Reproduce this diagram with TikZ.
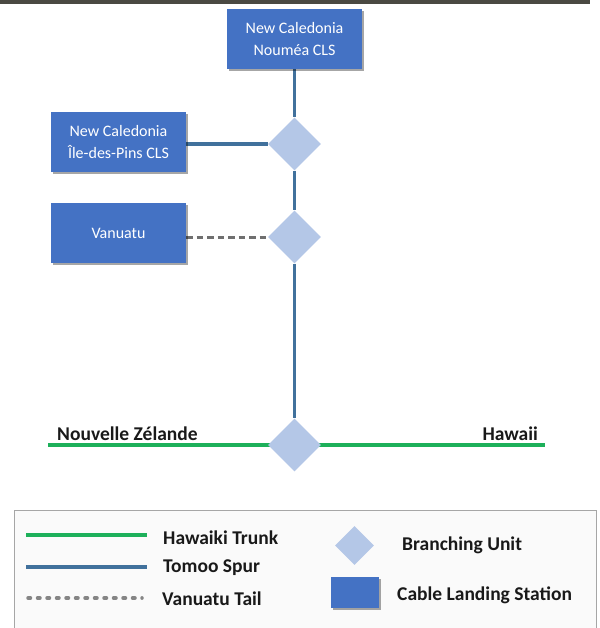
\documentclass[tikz,border=0pt]{standalone}
\usepackage{fontspec}
\setmainfont{Carlito}
\usetikzlibrary{shapes.geometric,shadows}
\definecolor{boxblue}{HTML}{4472C4}
\definecolor{spurblue}{HTML}{41719C}
\definecolor{bulight}{HTML}{B4C7E7}
\definecolor{trunkgreen}{HTML}{1DB05A}
\definecolor{tailgrey}{HTML}{6F6F6F}
\definecolor{rulegrey}{HTML}{4A4942}
\pgfdeclarelayer{bg}
\pgfsetlayers{bg,main}
\tikzset{
  cls/.style={draw=none, fill=boxblue, text=white, minimum width=135pt, minimum height=60pt,
    align=center, inner sep=2pt, font=\fontsize{16}{22}\selectfont,
    drop shadow={shadow xshift=2pt, shadow yshift=-2pt, opacity=.35, fill=black}},
  bunit/.style={diamond, aspect=1, fill=bulight, draw=none, inner sep=0pt, minimum width=53pt, minimum height=53pt},
  trunk/.style={trunkgreen, line width=4pt},
  spur/.style={spurblue, line width=3.5pt},
  tail/.style={tailgrey, line width=3pt, dash pattern=on 6.5pt off 4pt},
  lbl/.style={font=\bfseries\fontsize{19.5}{23}\selectfont, inner sep=0pt, text=black!90},
}
\begin{document}
\begin{tikzpicture}[x=1pt,y=-1pt]
\useasboundingbox (0,0) rectangle (599,628);
% top rule
\fill[rulegrey] (0,0) rectangle (590,4);
% main diagram nodes
\node[cls] (noumea) at (294.5,39) {New Caledonia\\Nouméa CLS};
\node[cls] (ile) at (118.5,142) {New Caledonia\\Île-des-Pins CLS};
\node[cls] (vanuatu) at (118.5,233) {Vanuatu};
\node[bunit] (bu1) at (294.5,144) {};
\node[bunit] (bu2) at (294.5,237) {};
\node[bunit] (bu3) at (294.5,445) {};
\coordinate (nz) at (48,445);
\coordinate (hw) at (545,445);
\node[lbl, anchor=base west] (nzl) at (57,440) {Nouvelle Zélande};
\node[lbl, anchor=base east] (hwl) at (538,440) {Hawaii};
\begin{pgfonlayer}{bg}
  \draw[spur] (noumea) -- (bu1) -- (bu2) -- (bu3);
  \draw[spur] (ile.east |- bu1) -- (bu1);
  \draw[tail] (vanuatu.east |- bu2) -- (bu2.west);
  \draw[trunk] (nz) -- (hw);
\end{pgfonlayer}
% legend
\draw[gray!70, line width=1pt, fill=gray!4] (14,510) rectangle (596,640);
\coordinate (lg1a) at (26,535); \coordinate (lg1b) at (147,535);
\coordinate (lg2a) at (26,567); \coordinate (lg2b) at (147,567);
\coordinate (lg3a) at (28,598); \coordinate (lg3b) at (142,598);
\draw[trunk] (lg1a) -- (lg1b);
\draw[spur] (lg2a) -- (lg2b);
\draw[tailgrey!85, line width=3.5pt, line cap=round, dash pattern=on 2.5pt off 7pt] (lg3a) -- (lg3b);
\node[lbl, anchor=west] (t1) at (163,538) {Hawaiki Trunk};
\node[lbl, anchor=west] (t2) at (163,568) {Tomoo Spur};
\node[lbl, anchor=west] (t3) at (162,599) {Vanuatu Tail};
\node[bunit, minimum width=39pt, minimum height=39pt] (lbu) at (354.5,545.5) {};
\node[fill=boxblue, minimum width=48pt, minimum height=31pt, inner sep=0pt,
  drop shadow={shadow xshift=2pt, shadow yshift=-2pt, opacity=.35, fill=black}] (lcls) at (355,592) {};
\node[lbl, anchor=west] (t4) at (402,545) {Branching Unit};
\node[lbl, anchor=west] (t5) at (397,595) {Cable Landing Station};
\end{tikzpicture}
\end{document}
